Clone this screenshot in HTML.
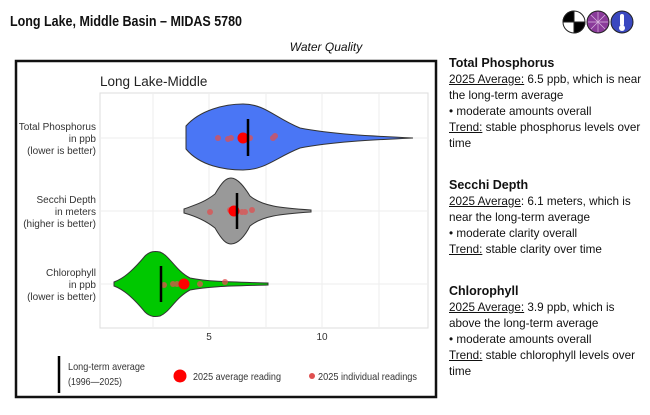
<!DOCTYPE html>
<html><head><meta charset="utf-8"><style>
body{margin:0;width:650px;height:415px;background:#fff;font-family:"Liberation Sans",sans-serif;position:relative;overflow:hidden}
.t{position:absolute;left:449px;font-size:11.7px;line-height:16px;color:#111;width:200px}
.t b{font-size:12.5px}
u{text-decoration:underline}
</style></head><body>
<svg width="650" height="415" style="position:absolute;left:0;top:0" font-family="Liberation Sans, sans-serif">
<text x="10" y="26" font-size="15" font-weight="bold" fill="#111" textLength="232" lengthAdjust="spacingAndGlyphs">Long Lake, Middle Basin – MIDAS 5780</text>
<text x="326" y="51" font-size="12" font-style="italic" text-anchor="middle" fill="#111">Water Quality</text>
<g stroke="#222" stroke-width="1">
<circle cx="574" cy="22" r="11" fill="#fff"/>
<path d="M574 11 A11 11 0 0 0 563 22 L574 22Z M574 22 L585 22 A11 11 0 0 1 574 33Z" fill="#000"/>
<circle cx="598" cy="22" r="11" fill="#8a3a9a"/>
<circle cx="622" cy="22" r="11" fill="#3a48c0"/>
</g>
<g stroke="#d9b8e0" stroke-width="0.7"><line x1="598" y1="12" x2="598" y2="32"/><line x1="588" y1="22" x2="608" y2="22"/><line x1="591" y1="15" x2="605" y2="29"/><line x1="605" y1="15" x2="591" y2="29"/></g>
<rect x="620" y="14" width="4" height="12" rx="2" fill="#fff"/><circle cx="622" cy="28" r="3" fill="#fff"/>
<rect x="16" y="61" width="420" height="336" fill="#fff" stroke="#111" stroke-width="2.5"/>
<text x="100" y="86" font-size="13.5" fill="#222">Long Lake-Middle</text>
<rect x="100" y="93" width="328" height="235" fill="#fff" stroke="#ddd" stroke-width="1"/>
<g stroke="#eee" stroke-width="1">
<line x1="153" y1="93" x2="153" y2="328"/><line x1="266" y1="93" x2="266" y2="328"/><line x1="379" y1="93" x2="379" y2="328"/>
<line x1="209" y1="93" x2="209" y2="328"/><line x1="322" y1="93" x2="322" y2="328"/>
<line x1="100" y1="138" x2="428" y2="138"/><line x1="100" y1="211" x2="428" y2="211"/><line x1="100" y1="284" x2="428" y2="284"/>
</g>
<path d="M186 126 C200 110 225 104 243 104 C265 104 275 118 300 128 C330 134 370 136 413 138 C370 140 330 142 300 148 C275 158 265 170 243 170 C225 170 200 166 186 149 Z" fill="#4a76f5" stroke="#333" stroke-width="1"/>
<path d="M184 209 C195 205 205 202 215 194 C222 182 226 178 231 178 C238 178 245 188 250 196 C262 206 280 208 311 210 L311 212 C280 214 262 216 250 226 C245 236 238 244 231 244 C226 244 222 240 215 228 C205 220 195 216 184 213 Z" fill="#999" stroke="#333" stroke-width="1"/>
<path d="M114 282 C125 278 135 268 145 256 C150 251 155 251 160 252 C170 256 175 270 190 278 C210 282 235 282 268 283 L268 285 C235 286 210 286 190 290 C175 298 170 312 160 316 C155 317 150 317 145 312 C135 300 125 290 114 286 Z" fill="#00c800" stroke="#333" stroke-width="1"/>
<g fill="#e05050" opacity="0.75">
<circle cx="218" cy="138" r="3"/><circle cx="228" cy="139" r="3"/><circle cx="231" cy="138" r="3"/><circle cx="250" cy="138" r="3"/><circle cx="273" cy="138" r="3"/><circle cx="275" cy="136" r="3"/>
<circle cx="210" cy="212" r="3"/><circle cx="230" cy="210" r="3"/><circle cx="242" cy="212" r="3"/><circle cx="252" cy="210" r="3"/><circle cx="245" cy="212" r="3"/>
<circle cx="164" cy="285" r="3"/><circle cx="173" cy="284" r="3"/><circle cx="177" cy="284" r="3"/><circle cx="200" cy="284" r="3"/><circle cx="225" cy="282" r="3"/>
</g>
<g fill="#ff0000"><circle cx="243" cy="138" r="5.5"/><circle cx="234" cy="211" r="5.5"/><circle cx="184" cy="284" r="5.5"/></g>
<g stroke="#000" stroke-width="2.5">
<line x1="248" y1="119" x2="248" y2="156"/><line x1="237" y1="193" x2="237" y2="229"/><line x1="161" y1="266" x2="161" y2="302"/>
</g>
<g font-size="10" fill="#333" text-anchor="end">
<text x="96" y="130">Total Phosphorus</text><text x="96" y="142">in ppb</text><text x="96" y="154">(lower is better)</text>
<text x="96" y="203">Secchi Depth</text><text x="96" y="215">in meters</text><text x="96" y="227">(higher is better)</text>
<text x="96" y="276">Chlorophyll</text><text x="96" y="288">in ppb</text><text x="96" y="300">(lower is better)</text>
</g>
<g font-size="10" fill="#333" text-anchor="middle"><text x="209" y="340">5</text><text x="322" y="340">10</text></g>
<line x1="59" y1="356" x2="59" y2="393" stroke="#000" stroke-width="2.5"/>
<g font-size="10.5" fill="#333">
<text x="68" y="370" textLength="77" lengthAdjust="spacingAndGlyphs">Long-term average</text><text x="68" y="385" textLength="54" lengthAdjust="spacingAndGlyphs">(1996—2025)</text>
<text x="193" y="380" textLength="88" lengthAdjust="spacingAndGlyphs">2025 average reading</text>
<text x="318" y="380" textLength="99" lengthAdjust="spacingAndGlyphs">2025 individual readings</text>
</g>
<circle cx="180" cy="376" r="6.5" fill="#ff0000"/>
<circle cx="312" cy="376" r="3" fill="#e05050"/>
</svg>
<div class="t" style="top:55px"><b>Total Phosphorus</b><br><u>2025 Average:</u> 6.5 ppb, which is near the long-term average<br>• moderate amounts overall<br><u>Trend:</u> stable phosphorus levels over time</div>
<div class="t" style="top:177px"><b>Secchi Depth</b><br><u>2025 Average</u>: 6.1 meters, which is near the long-term average<br>• moderate clarity overall<br><u>Trend:</u> stable clarity over time</div>
<div class="t" style="top:283px"><b>Chlorophyll</b><br><u>2025 Average:</u> 3.9 ppb, which is above the long-term average<br>• moderate amounts overall<br><u>Trend:</u> stable chlorophyll levels over time</div>
</body></html>
